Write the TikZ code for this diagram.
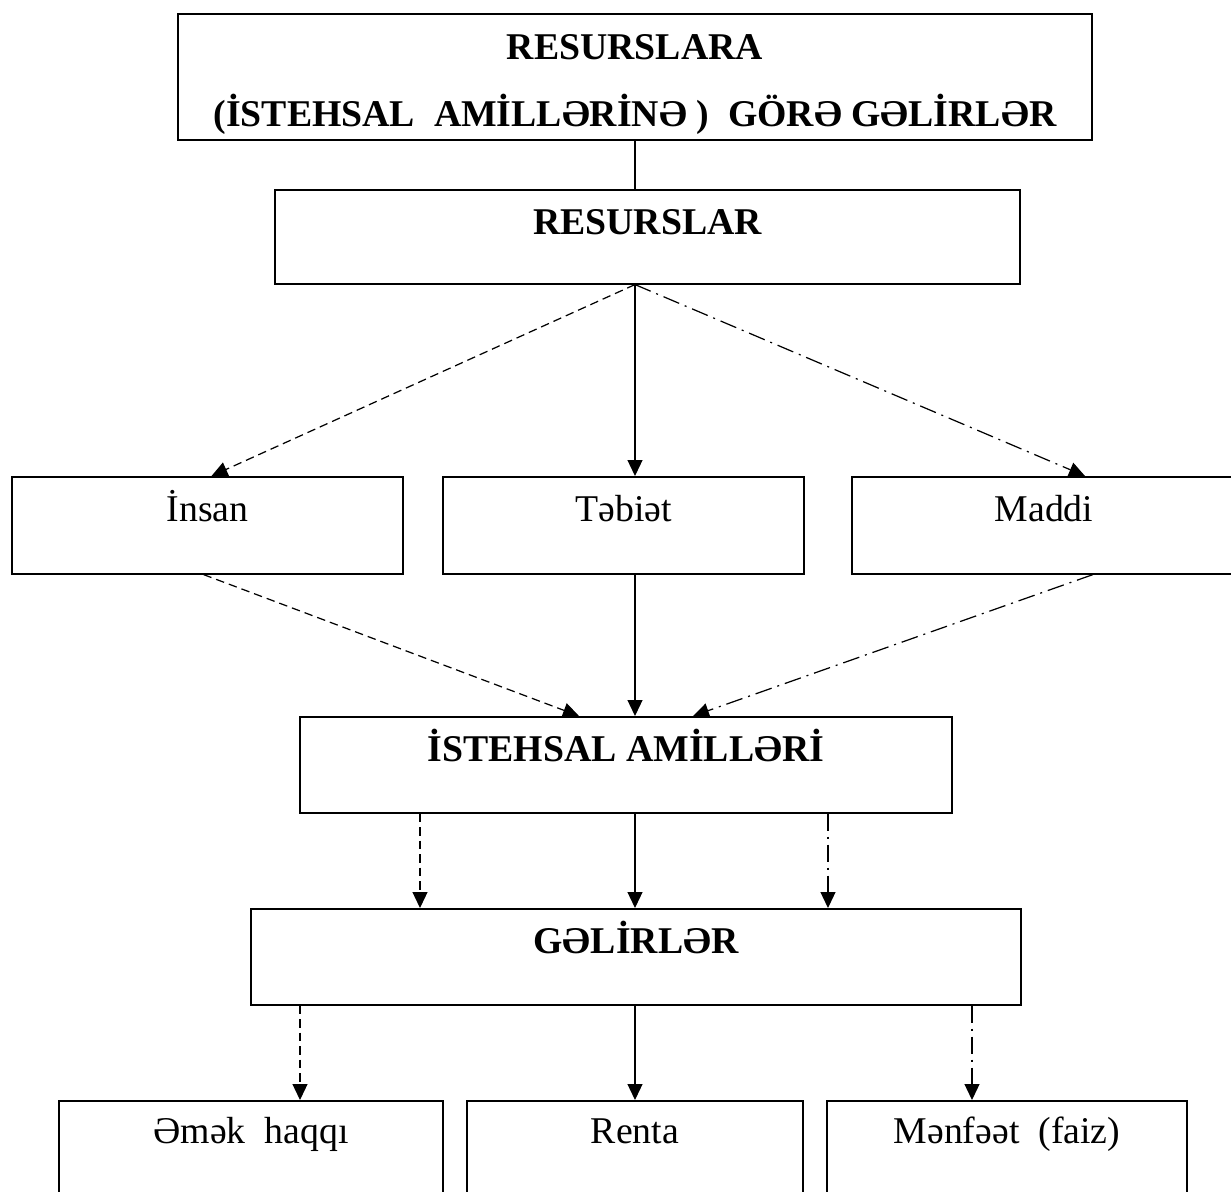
\documentclass[tikz,border=0pt]{standalone}
\usepackage{fontspec}
\setmainfont{Liberation Serif}
\usetikzlibrary{arrows.meta}

\tikzset{
  box/.style={draw, line width=0.9pt, inner sep=0pt, anchor=north,
    font=\fontsize{21.5}{25}\selectfont, text height=0.9cm},
  bbox/.style={box, font=\fontsize{21.5}{25}\selectfont\bfseries},
  con/.style={line width=0.7pt, -{Triangle[length=0.32cm,width=0.3cm]}},
  dashcon/.style={con, dash pattern=on 0.17cm off 0.1cm},
  dotcon/.style={con, dash pattern=on 0.34cm off 0.12cm on 0.04cm off 0.12cm},
}

\begin{document}
\begin{tikzpicture}[x=0.02cm, y=-0.02cm]
    \useasboundingbox (0,0) rectangle (1231,1191);
    \clip (0,0) rectangle (1231,1191);

    % 标题框
    \node[draw, line width=0.9pt, align=center, minimum width=18.28cm, minimum height=2.52cm,
        font=\fontsize{21.5}{38}\selectfont\bfseries] (top) at (635,77)
        {\rule{0pt}{0.8cm}RESURSLARA\\(İSTEHSAL\ \ AMİLLƏRİNƏ )\ \ GÖRƏ GƏLİRLƏR};

    % 资源
    \node[bbox, minimum width=14.9cm, text depth=0.98cm] (res) at (647.5,189) {RESURSLAR};
    \coordinate (hub) at (res.south -| top.south);

    % 三类资源
    \node[box, minimum width=7.82cm, text depth=1.04cm] (insan) at (207.5,476) {İnsan};
    \node[box, minimum width=7.22cm, text depth=1.04cm] (tab) at (623.5,476) {Təbiət};
    \node[box, minimum width=7.68cm, text depth=1.04cm] (maddi) at (1044,476) {Maddi};

    % 生产要素
    \node[bbox, minimum width=13.04cm, text depth=1.02cm] (ist) at (626,716) {İSTEHSAL AMİLLƏRİ};

    % 收入
    \node[bbox, minimum width=15.4cm, text depth=1.02cm] (gel) at (636,908) {GƏLİRLƏR};

    % 三类收入
    \node[box, minimum width=7.68cm, text height=0.86cm, text depth=2.14cm] (emek) at (251,1100) {Əmək\ \ haqqı};
    \node[box, minimum width=6.72cm, text height=0.86cm, text depth=2.14cm] (renta) at (635,1100) {Renta};
    \node[box, minimum width=7.2cm, text height=0.86cm, text depth=2.14cm] (menf) at (1007,1100) {Mənfəət\ \ (faiz)};

    % 连线
    \draw[line width=0.7pt] (top.south) -- (top.south |- res.north);

    \draw[dashcon] (hub) -- ([shift={(4,0)}]insan.north);
    \draw[con] (hub) -- (hub |- tab.north);
    \draw[dotcon] (hub) -- ([shift={(41,0)}]maddi.north);

    \draw[dashcon] ([shift={(-4,0)}]insan.south) -- ([shift={(-47,0)}]ist.north);
    \draw[con] (hub |- tab.south) -- (hub |- ist.north);
    \draw[dotcon] ([shift={(49,0)}]maddi.south) -- ([shift={(67,0)}]ist.north);

    \draw[dashcon] ([shift={(-206,0)}]ist.south) -- ([shift={(-216,0)}]gel.north);
    \draw[con] (hub |- ist.south) -- (hub |- gel.north);
    \draw[dotcon] ([shift={(202,0)}]ist.south) -- ([shift={(192,0)}]gel.north);

    \draw[dashcon] ([shift={(-336,0)}]gel.south) -- ([shift={(49,0)}]emek.north);
    \draw[con] (hub |- gel.south) -- (hub |- renta.north);
    \draw[dotcon] ([shift={(336,0)}]gel.south) -- ([shift={(-35,0)}]menf.north);

\end{tikzpicture}
\end{document}
